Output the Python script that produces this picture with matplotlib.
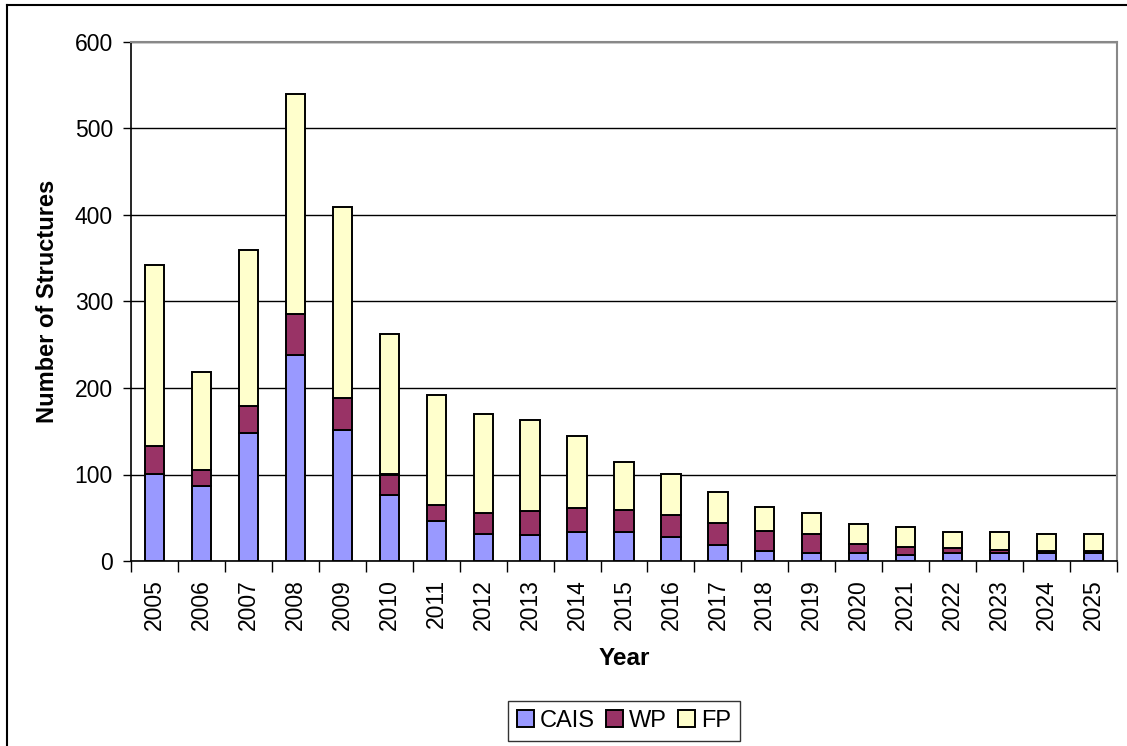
import numpy as np
import matplotlib
matplotlib.use("Agg")
import matplotlib.pyplot as plt
from matplotlib.lines import Line2D
from matplotlib.ticker import MultipleLocator

# [1].
years = [str(y) for y in range(2005, 2026)]
cais = [101, 87, 148, 238, 152, 76, 46, 31, 30, 33, 33, 28, 18, 11, 9, 9, 7, 9, 9, 9, 9]
wp = [32, 18, 31, 48, 36, 24, 19, 24, 28, 28, 26, 25, 26, 24, 22, 11, 9, 6, 4, 3, 3]
fp = [209, 113, 181, 254, 221, 162, 127, 115, 105, 83, 56, 47, 36, 28, 25, 23, 23, 18, 20, 19, 19]

# [2]. Estilo general
plt.rcParams['font.family'] = ['Liberation Sans', 'DejaVu Sans']
W, H = 1127, 746
fig = plt.figure(figsize=(W / 100, H / 100), dpi=100)
ax = fig.add_axes([131 / W, 1 - 561 / H, (1117 - 131) / W, (561 - 42) / H])

x = np.arange(len(years))
bw = 0.41
edge = dict(edgecolor='black', linewidth=1.4, zorder=3)
cais_arr = np.array(cais)
wp_arr = np.array(wp)
ax.bar(x, cais_arr, bw, color='#9999FF', label='CAIS', **edge)
ax.bar(x, wp_arr, bw, bottom=cais_arr, color='#993366', label='WP', **edge)
ax.bar(x, fp, bw, bottom=cais_arr + wp_arr, color='#FFFFCC', label='FP', **edge)

# [3]. Ejes
ax.set_xlim(-0.5, len(years) - 0.5)
ax.set_ylim(0, 600)
ax.yaxis.set_major_locator(MultipleLocator(100))
ax.grid(axis='y', color='black', linewidth=1.0, zorder=0)
ax.set_axisbelow(True)

ax.set_xticks(x)
ax.set_xticklabels(years, rotation=90, fontsize=16.5)
ax.set_xticks(np.arange(-0.5, len(years)), minor=True)
ax.tick_params(axis='x', which='major', length=0, pad=13)
ax.tick_params(axis='x', which='minor', length=8, width=1, direction='out')
ax.tick_params(axis='y', length=6, width=1, direction='out', labelsize=16.5, pad=7)

for s in ['left', 'bottom']:
    ax.spines[s].set_color('black')
    ax.spines[s].set_linewidth(1.2)
for s in ['top', 'right']:
    ax.spines[s].set_color('#888888')
    ax.spines[s].set_linewidth(1.5)

ax.set_ylabel('Number of Structures', fontsize=17, fontweight='bold')
ax.yaxis.set_label_coords(-0.073, 0.5)
ax.set_xlabel('Year', fontsize=17.5, fontweight='bold')
ax.xaxis.set_label_coords(0.5, -0.166)

# [4]. Leyenda
leg = fig.legend(loc='center', bbox_to_anchor=(624 / W, 1 - 721 / H), ncol=3,
                 fontsize=17, frameon=True, fancybox=False, edgecolor='black',
                 handlelength=0.7, handleheight=0.7, handletextpad=0.25,
                 columnspacing=0.5, borderpad=0.4)
leg.get_frame().set_linewidth(1.0)

# [5]. Marco del grafico
fig.add_artist(Line2D([7 / W, 7 / W], [0, 1 - 5 / H], color='black', linewidth=1.5))
fig.add_artist(Line2D([7 / W, 1], [1 - 5 / H, 1 - 5 / H], color='black', linewidth=1.5))

fig.savefig('out.png', dpi=100)
